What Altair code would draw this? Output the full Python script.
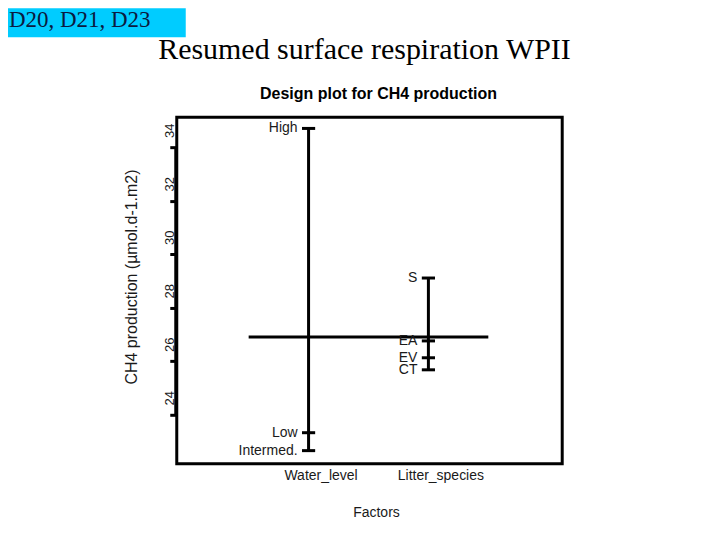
import altair as alt
import pandas as pd

factors = ["Water_level", "Litter_species"]
water_levels = ["High", "Low", "Intermed."]
water_means = [34.7, 23.33, 22.66]
litter_levels = ["S", "EA", "EV", "CT"]
litter_means = [29.11, 26.76, 26.13, 25.68]
grand_mean = 26.91
y_ticks = [24, 26, 28, 30, 32, 34]

rows = []
for i, (levels, means) in enumerate([(water_levels, water_means), (litter_levels, litter_means)]):
    for lv, m in zip(levels, means):
        rows.append({"factor": factors[i], "fi": i + 1, "level": lv, "mean": m})
df = pd.DataFrame(rows)

SANS = "Liberation Sans"
SERIF = "Liberation Serif"
TXT = "#1a1a1a"

xs = alt.Scale(domain=[-0.1, 3.1167], nice=False, zero=False)
ys = alt.Scale(domain=[22.171, 35.119], nice=False, zero=False)

label_expr = "[" + ",".join(f"'{f}'" for f in factors) + "][datum.value - 1]"
xaxis = alt.Axis(values=list(range(1, len(factors) + 1)), labelExpr=label_expr, domain=False,
                 ticks=False, grid=False, labelPadding=5, labelOffset=12, labelFont=SANS,
                 labelFontSize=14, labelColor=TXT, labelBaseline="top", title=None)
yaxis = alt.Axis(values=y_ticks, domain=False, grid=False, tickSize=7, tickWidth=3, tickColor="black",
                 labelAngle=270, labelAlign="center", labelBaseline="bottom", labelPadding=-7,
                 labelOffset=-17, labelFont=SANS, labelFontSize=13, labelColor=TXT, title=None)

base = alt.Chart(df)

vlines = base.mark_rule(color="black", strokeWidth=3).encode(
    x=alt.X("fi:Q", scale=xs, axis=xaxis),
    y=alt.Y("min(mean):Q", scale=ys, axis=yaxis),
    y2="max(mean):Q",
)

ticks = base.transform_calculate(xl="datum.fi - 0.055", xr="datum.fi + 0.055").mark_rule(
    color="black", strokeWidth=3).encode(
    x=alt.X("xl:Q", scale=xs, axis=xaxis),
    x2="xr:Q",
    y=alt.Y("mean:Q", scale=ys, axis=yaxis),
)

labels = base.mark_text(align="right", baseline="middle", dx=-11, font=SANS, fontSize=14, color=TXT).encode(
    x=alt.X("fi:Q", scale=xs, axis=xaxis),
    y=alt.Y("mean:Q", scale=ys, axis=yaxis),
    text="level:N",
)

gm = alt.Chart(pd.DataFrame({"gm": [grand_mean]})).mark_rule(color="black", strokeWidth=3).encode(
    x=alt.datum(0.5, scale=xs, axis=xaxis),
    x2=alt.datum(len(factors) + 0.5),
    y=alt.Y("gm:Q", scale=ys, axis=yaxis),
)

axline = alt.Chart(pd.DataFrame({"lo": [min(y_ticks)], "hi": [max(y_ticks)]})).mark_rule(
    color="black", strokeWidth=3).encode(
    x=alt.value(-1),
    y=alt.Y("lo:Q", scale=ys, axis=yaxis),
    y2="hi:Q",
)

one = alt.Chart(pd.DataFrame({"a": [0]}))
cyan = one.mark_rect(color="#00CCFF").encode(
    x=alt.value(-169), x2=alt.value(9), y=alt.value(-109), y2=alt.value(-80))
cyan_txt = one.mark_text(align="left", baseline="alphabetic", font=SERIF, fontSize=23, color="#0b1a40").encode(
    x=alt.value(-168), y=alt.value(-90), text=alt.value("D20, D21, D23"))
main_title = one.mark_text(align="center", baseline="alphabetic", font=SERIF, fontSize=30, color="black").encode(
    x=alt.value(188), y=alt.value(-58), text=alt.value("Resumed surface respiration WPII"))
sub_title = one.mark_text(align="center", baseline="alphabetic", font=SANS, fontSize=16, fontWeight="bold",
                          color="black").encode(
    x=alt.value(202), y=alt.value(-18), text=alt.value("Design plot for CH4 production"))
ytitle = one.mark_text(align="center", baseline="middle", angle=270, font=SANS, fontSize=16, color=TXT).encode(
    x=alt.value(-45), y=alt.value(160), text=alt.value("CH4 production (µmol.d-1.m2)"))
xtitle = one.mark_text(align="center", baseline="alphabetic", font=SANS, fontSize=14, color=TXT).encode(
    x=alt.value(200), y=alt.value(400), text=alt.value("Factors"))

chart = alt.layer(vlines, ticks, gm, axline, labels, cyan, cyan_txt, main_title, sub_title, ytitle, xtitle).properties(
    width=386, height=347,
    autosize=alt.AutoSizeParams(type="none"),
    padding={"left": 169, "top": 109, "right": 150, "bottom": 68},
    background="white",
).configure_view(stroke="black", strokeWidth=3)

chart.save("out.html", embed_options={"renderer": "svg", "actions": False})
